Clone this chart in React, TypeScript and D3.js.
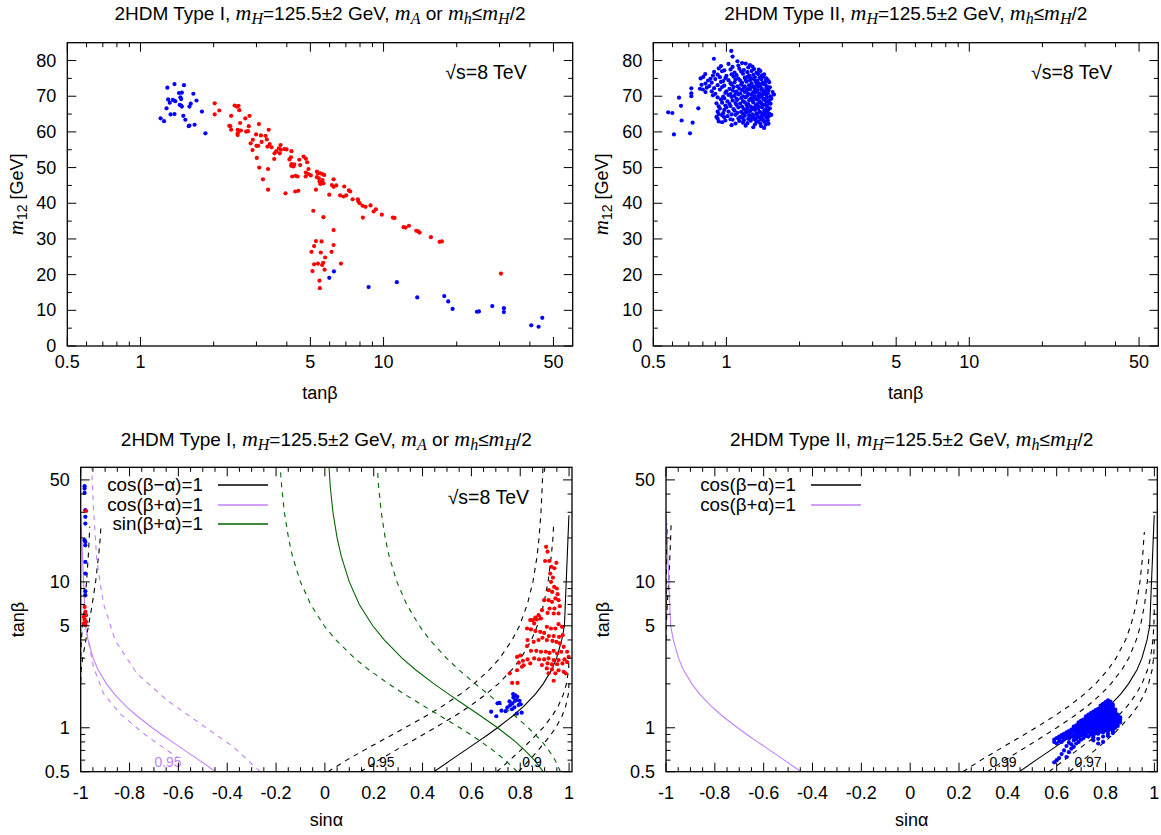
import React from "react";
import * as d3 from "d3";

type P = [number, number];

// ---------- Top-left: Type I  [tanβ, m12] ----------
const tlBlue: P[] = [
  [1.29,72.4],[1.38,73.4],[1.51,73.1],[1.21,63.8],[1.25,63.0],[1.28,66.6],[1.30,69.1],[1.32,68.2],[1.36,69.0],[1.39,68.6],
  [1.44,70.9],[1.46,69.7],[1.47,69.2],[1.48,71.0],[1.45,67.6],[1.47,67.4],[1.48,67.1],[1.33,64.9],[1.38,65.0],[1.50,64.5],
  [1.53,63.4],[1.58,61.6],[1.59,61.8],[1.61,67.9],[1.65,70.7],[1.67,62.0],[1.70,68.8],[1.79,65.7],[1.85,59.6],[1.59,67.1],
  [5.98,19.1],[6.25,20.9],[8.68,16.5],[11.34,17.9],[13.76,13.6],[17.77,14.0],[18.45,12.5],[19.23,10.4],[24.22,9.6],[24.68,9.7],
  [28.01,11.2],[31.27,10.6],[31.27,9.5],[40.53,5.8],[43.44,5.4],[44.98,7.9]
];
const tlRed: P[] = [
  [2.02,68.0],[2.11,66.0],[2.02,64.9],[2.44,67.4],[2.49,67.1],[2.53,67.3],[2.55,66.1],[2.36,64.5],[2.81,64.5],[2.70,63.8],
  [2.57,62.5],[2.32,61.7],[2.34,61.6],[2.36,60.6],[2.51,60.6],[2.54,60.3],[2.59,60.4],[2.72,60.1],[2.79,61.6],[2.77,60.2],
  [3.07,62.2],[3.37,60.6],[2.51,59.1],[2.51,59.6],[2.99,59.3],[3.13,59.0],[3.27,58.9],[3.31,57.9],[2.90,57.8],[2.84,56.8],
  [3.15,57.2],[3.40,56.6],[3.33,55.9],[3.46,55.7],[3.00,56.1],[3.05,56.1],[2.89,54.9],[3.77,56.3],[3.71,55.4],[3.78,55.0],
  [3.62,54.6],[3.56,54.0],[3.91,55.2],[3.99,55.1],[4.18,54.6],[3.74,54.0],[3.01,52.7],[3.55,52.4],[4.10,52.3],[4.16,52.9],
  [4.50,52.2],[4.69,53.1],[4.79,52.5],[4.85,51.5],[4.54,50.7],[4.18,51.0],[4.26,50.3],[4.17,50.5],[4.29,50.9],[4.91,49.6],
  [4.79,48.6],[4.91,48.2],[5.02,47.8],[4.78,47.5],[4.35,47.7],[4.21,47.5],[4.43,47.5],[3.08,50.0],[3.35,49.6],[3.19,46.7],
  [3.35,43.8],[3.95,42.8],[4.33,43.3],[4.46,43.5],[5.32,48.9],[5.37,48.4],[5.49,48.4],[5.61,48.2],[5.70,47.9],[5.32,47.3],
  [5.42,47.0],[5.61,46.5],[5.45,46.1],[5.56,45.6],[5.49,45.4],[5.66,45.6],[5.27,43.8],[6.23,46.7],[6.13,45.1],[6.23,44.6],
  [6.39,45.0],[6.89,44.7],[5.98,42.4],[6.63,42.2],[6.85,41.9],[7.02,42.2],[7.29,43.3],[7.46,41.1],[7.84,41.1],[7.87,40.6],
  [7.97,40.0],[7.20,43.6],[8.20,39.3],[8.43,39.0],[8.84,39.4],[9.30,38.3],[9.10,37.7],[8.22,36.0],[9.84,36.8],[10.92,36.0],
  [11.10,35.9],[12.09,33.3],[12.32,33.2],[12.72,33.7],[13.63,32.3],[13.89,32.1],[14.07,31.8],[15.66,30.5],[17.00,29.2],[17.38,29.3],
  [30.40,20.3],
  [5.14,37.9],[5.66,36.1],[6.23,32.5],[5.27,29.4],[5.56,29.3],[5.05,26.4],[5.18,28.0],[6.23,28.3],[6.11,26.4],[5.52,26.2],
  [5.75,24.8],[5.18,22.9],[5.37,23.1],[5.59,22.7],[5.65,23.3],[6.68,23.1],[5.10,21.0],[5.72,21.4],[5.45,18.3],[5.47,16.2]
];

// ---------- Top-right: Type II  [tanβ, m12] ----------
const trSparse: P[] = [
  [0.576,65.5],[0.599,65.3],[0.608,59.3],[0.638,69.6],[0.650,67.3],[0.654,63.2],[0.708,59.6],[0.717,72.2],[0.717,70.8],[0.717,70.0],
  [0.726,62.6],[0.766,66.6],[0.778,72.1],[0.783,75.0],[0.803,75.4],[0.818,76.2],[0.888,80.5],[1.047,82.7],[1.06,81.1]
];
const trCloud: P[] = [
  [1.11,79.8],[1.16,79.3],
  [1.02,79.05],[1.25,78.7],[1.20,79.15],
  [0.95,78.45],[1.06,78.2],[1.12,78.6],[1.23,78.05],[1.28,78.3],
  [0.93,77.8],[0.98,77.25],[1.04,77.5],[1.13,77.7],[1.18,77.35],[1.30,77.6],[1.36,77.45],
  [0.89,76.8],[0.96,77.0],[1.08,76.65],[1.15,76.9],[1.22,76.75],[1.27,77.08],[1.33,76.58],[1.38,77.05],
  [0.88,75.8],[0.92,76.05],[1.00,75.7],[1.05,76.15],[1.10,75.9],[1.17,76.3],[1.24,75.75],[1.29,76.0],[1.35,76.2],[1.40,75.85],[1.43,76.1],
  [0.86,74.9],[0.94,75.35],[0.99,75.1],[1.07,75.5],[1.12,74.95],[1.19,75.2],[1.22,75.4],[1.26,75.05],[1.31,75.3],[1.37,75.15],[1.42,75.48],[1.46,74.98],
  [0.84,74.4],[0.90,74.8],[0.97,74.25],[1.02,74.5],[1.09,74.7],[1.14,74.35],[1.20,74.6],[1.25,74.45],[1.30,74.78],[1.34,74.28],[1.39,74.75],[1.45,74.3],[1.48,74.55],
  [0.82,73.55],[0.87,73.8],[0.95,74.0],[1.04,73.65],[1.08,73.9],[1.16,73.75],[1.21,74.08],[1.27,73.58],[1.32,74.05],[1.36,73.6],[1.41,73.85],[1.44,73.5],[1.50,73.95],
  [0.79,73.2],[0.85,72.85],[0.92,73.1],[0.98,72.95],[1.05,73.28],[1.11,72.78],[1.15,73.25],[1.19,72.8],[1.24,73.05],[1.29,72.7],[1.33,73.15],[1.38,72.9],[1.43,73.3],[1.47,72.75],
  [0.83,72.4],[0.89,72.25],[0.96,72.58],[1.03,72.08],[1.07,72.55],[1.13,72.1],[1.18,72.35],[1.22,72.0],[1.26,72.45],[1.31,72.2],[1.35,72.6],[1.40,72.05],[1.46,72.3],[1.51,72.5],
  [0.80,71.88],[0.87,71.38],[0.94,71.85],[1.00,71.4],[1.06,71.65],[1.10,71.3],[1.16,71.75],[1.21,71.5],[1.25,71.9],[1.30,71.35],[1.34,71.6],[1.39,71.8],[1.44,71.45],[1.49,71.7],
  [0.82,71.15],[0.90,70.7],[0.99,70.95],[1.04,70.6],[1.09,71.05],[1.14,70.8],[1.19,71.2],[1.23,70.65],[1.28,70.9],[1.32,71.1],[1.37,70.75],[1.42,71.0],[1.48,70.85],[1.55,71.18],
  [0.88,70.25],[0.97,69.9],[1.02,70.35],[1.08,70.1],[1.12,70.5],[1.17,69.95],[1.22,70.2],[1.27,70.4],[1.31,70.05],[1.36,70.3],[1.40,70.15],[1.45,70.48],[1.52,69.98],[1.57,70.45],
  [0.92,69.65],[0.98,69.4],[1.05,69.8],[1.10,69.25],[1.15,69.5],[1.20,69.7],[1.26,69.35],[1.30,69.6],[1.35,69.45],[1.38,69.78],[1.43,69.28],[1.47,69.75],[1.53,69.3],
  [0.95,69.1],[1.01,68.55],[1.06,68.8],[1.11,69.0],[1.17,68.65],[1.24,68.9],[1.28,68.75],[1.33,69.08],[1.37,68.58],[1.42,69.05],[1.46,68.6],[1.50,68.85],
  [0.91,68.0],[0.96,68.2],[1.03,67.85],[1.09,68.1],[1.14,67.95],[1.19,68.28],[1.23,67.78],[1.29,68.25],[1.34,67.8],[1.39,68.05],[1.44,67.7],[1.49,68.15],[1.52,67.9],
  [0.93,67.15],[0.99,67.4],[1.04,67.25],[1.10,67.58],[1.16,67.08],[1.21,67.55],[1.26,67.1],[1.32,67.35],[1.36,67.0],[1.41,67.45],[1.47,67.2],
  [0.94,66.55],[1.00,66.88],[1.07,66.38],[1.12,66.85],[1.18,66.4],[1.22,66.65],[1.27,66.3],[1.30,66.75],[1.35,66.5],[1.40,66.9],[1.45,66.35],[1.51,66.6],
  [0.92,65.68],[0.98,66.15],[1.02,65.7],[1.08,65.95],[1.15,65.6],[1.20,66.05],[1.25,65.8],[1.31,66.2],[1.37,65.65],[1.43,65.9],[1.48,66.1],
  [0.93,65.0],[0.97,65.25],[1.05,64.9],[1.11,65.35],[1.17,65.1],[1.21,65.5],[1.28,64.95],[1.33,65.2],[1.38,65.4],[1.42,65.05],[1.46,65.3],[1.50,65.15],
  [0.91,64.2],[0.96,64.65],[1.01,64.4],[1.09,64.8],[1.14,64.25],[1.19,64.5],[1.24,64.7],[1.29,64.35],[1.34,64.6],[1.40,64.45],[1.44,64.78],[1.49,64.28],[1.53,64.75],
  [0.92,63.7],[0.98,64.1],[1.04,63.55],[1.12,63.8],[1.16,64.0],[1.23,63.65],[1.27,63.9],[1.32,63.75],[1.36,64.08],[1.41,63.58],[1.46,64.05],
  [0.93,62.95],[0.99,63.2],[1.06,63.4],[1.13,63.05],[1.18,63.3],[1.26,63.15],[1.31,63.48],[1.35,62.98],[1.39,63.45],[1.43,63.0],[1.48,63.25],
  [0.96,62.7],[1.09,62.35],[1.17,62.6],[1.22,62.45],[1.33,62.78],[1.38,62.28],[1.44,62.75],[1.49,62.3],
  [1.05,61.9],[1.20,61.75],[1.31,62.08],[1.39,61.58],[1.45,62.05],
  [1.29,61.3],[1.43,61.1]
];

// ---------- Bottom-left: Type I  [sinα, tanβ] ----------
const blBlue: P[] = [
  [0.681,1.29],[0.702,1.20],[0.707,1.47],[0.715,1.48],[0.723,1.31],[0.740,1.30],[0.748,1.38],[0.759,1.43],[0.756,1.52],[0.768,1.47],
  [0.772,1.61],[0.779,1.53],[0.788,1.63],[0.786,1.55],[0.797,1.53],[0.766,1.34],[0.776,1.38],[0.793,1.43],[0.802,1.45],[0.806,1.27],
  [0.786,1.25],[0.771,1.70],[0.780,1.67],
  [-0.984,45.3],[-0.984,43.6],[-0.984,40.7],[-0.981,31.0],[-0.981,27.9],[-0.981,25.1],[-0.984,19.3],[-0.981,18.8],[-0.981,17.8],
  [-0.981,13.7],[-0.981,11.4],[-0.981,8.64],[-0.981,8.11]
];
const blRed: P[] = [
  [0.906,17.4],[0.912,16.1],[0.902,13.9],[0.919,13.9],[0.948,13.5],[0.927,12.7],[0.940,12.4],[0.923,11.4],[0.934,10.7],[0.926,10.0],
  [0.939,9.24],[0.950,9.01],[0.917,8.77],[0.931,8.54],[0.953,8.24],[0.944,7.70],[0.916,7.49],[0.930,7.30],[0.957,7.49],[0.898,7.49],
  [0.962,6.82],[0.920,6.57],[0.940,6.57],[0.889,6.40],[0.912,6.13],[0.937,6.07],[0.957,6.07],[0.875,5.91],[0.862,5.70],[0.852,5.47],
  [0.868,5.53],[0.885,5.61],[0.841,5.47],[0.857,5.19],[0.909,4.92],[0.926,4.79],[0.944,4.79],[0.957,5.13],[0.971,4.92],[0.828,4.79],
  [0.844,4.72],[0.862,4.60],[0.882,4.55],[0.898,4.47],[0.917,4.25],[0.937,4.25],[0.959,4.20],[0.974,4.31],[0.830,3.99],[0.855,3.88],
  [0.875,3.99],[0.891,4.14],[0.909,3.99],[0.932,3.94],[0.948,3.88],[0.962,3.79],[0.978,3.59],[0.828,3.63],[0.844,3.37],[0.866,3.37],
  [0.885,3.32],[0.905,3.32],[0.920,3.26],[0.937,3.37],[0.951,3.23],[0.968,3.32],[0.992,3.32],[0.800,3.13],[0.787,3.06],[0.811,2.88],
  [0.830,2.94],[0.857,2.99],[0.877,2.94],[0.898,2.94],[0.916,2.99],[0.937,2.91],[0.957,2.91],[0.981,2.94],[0.998,3.06],[0.794,2.79],
  [0.814,2.68],[0.841,2.76],[0.889,2.69],[0.912,2.76],[0.930,2.72],[0.951,2.73],[0.973,2.76],[0.992,2.82],[0.787,2.48],[0.807,2.62],
  [0.909,2.55],[0.930,2.51],[0.957,2.48],[0.978,2.42],[0.757,2.36],[0.916,2.36],[0.944,2.36],[0.986,2.36],[0.937,2.10],[0.767,2.03],
  [0.789,2.03],
  [-0.978,30.6],[-0.984,6.74],[-0.981,6.23],[-0.978,5.91],[-0.987,5.76],[-0.984,5.53],[-0.978,5.32],[-0.987,5.19],[-0.981,5.05]
];

// ---------- Bottom-right: Type II  [sinα -> list of tanβ] ----------
const brColS: number[] = [0.59,0.60,0.61,0.62,0.63,0.64,0.65,0.66,0.67,0.68,0.69,0.70,0.71,0.72,0.73,0.74,0.75,0.76,0.77,0.78,0.79,0.80,0.81,0.82,0.83,0.84,0.85,0.86];
const brColT: number[][] = [
  [0.58,0.80,0.83],
  [0.60,0.78,0.85],
  [0.62,0.81,0.84,0.87],
  [0.66,0.80,0.86,0.89],
  [0.70,0.83,0.88,0.91],
  [0.63,0.75,0.86,0.90,0.93],
  [0.68,0.79,0.84,0.89,0.92,0.95],
  [0.72,0.77,0.87,0.91,0.94,0.97],
  [0.74,0.82,0.86,0.90,0.96,0.99,1.02],
  [0.78,0.84,0.88,0.93,0.97,1.00,1.04],
  [0.80,0.86,0.91,0.95,0.99,1.03,1.06,1.09],
  [0.83,0.89,0.93,0.97,1.01,1.05,1.08,1.12],
  [0.85,0.90,0.95,0.99,1.03,1.07,1.11,1.14],
  [0.88,0.92,0.96,1.00,1.05,1.09,1.13,1.17,1.20],
  [0.87,0.93,0.98,1.02,1.07,1.11,1.15,1.19,1.23],
  [0.90,0.95,1.00,1.04,1.08,1.13,1.17,1.21,1.26],
  [0.82,0.86,0.89,0.94,0.99,1.03,1.07,1.11,1.15,1.20,1.24,1.29],
  [0.92,0.97,1.01,1.05,1.10,1.14,1.18,1.22,1.27,1.32],
  [0.78,0.84,0.91,0.96,1.00,1.04,1.08,1.12,1.17,1.21,1.25,1.30,1.35],
  [0.94,0.98,1.02,1.06,1.11,1.15,1.19,1.24,1.28,1.33,1.38,1.42],
  [0.80,0.87,0.93,0.97,1.01,1.05,1.09,1.13,1.18,1.22,1.27,1.31,1.36,1.41,1.46],
  [0.96,1.00,1.04,1.08,1.12,1.16,1.21,1.25,1.30,1.34,1.39,1.44,1.50],
  [0.88,0.91,0.95,0.99,1.03,1.07,1.11,1.15,1.19,1.24,1.28,1.33,1.37,1.42,1.48,1.54],
  [0.98,1.02,1.06,1.10,1.14,1.18,1.22,1.27,1.31,1.36,1.40,1.46,1.51],
  [0.92,0.94,0.97,1.01,1.05,1.09,1.13,1.17,1.21,1.25,1.30,1.34,1.39,1.44],
  [1.00,1.04,1.08,1.12,1.16,1.20,1.24,1.29,1.33],
  [1.03,1.07,1.11,1.15,1.19,1.23],
  [1.09,1.14,1.18]
];

// ---------- Curves [sinα, tanβ] ----------
const cosBmA: P[] = [[0.447,0.5],[0.515,0.6],[0.574,0.7],[0.625,0.8],[0.669,0.9],[0.707,1],[0.768,1.2],[0.814,1.4],[0.862,1.7],[0.894,2],[0.929,2.5],[0.949,3],[0.970,4],[0.981,5],[0.9994,28.6]];
const cosBpA: P[] = [[-0.447,0.5],[-0.515,0.6],[-0.574,0.7],[-0.625,0.8],[-0.669,0.9],[-0.707,1],[-0.768,1.2],[-0.814,1.4],[-0.862,1.7],[-0.894,2],[-0.929,2.5],[-0.949,3],[-0.970,4],[-0.981,5],[-0.9994,28.6]];
const sinBpA: P[] = [[0.894,0.5],[0.858,0.6],[0.819,0.7],[0.781,0.8],[0.743,0.9],[0.707,1],[0.640,1.2],[0.581,1.4],[0.507,1.7],[0.447,2],[0.371,2.5],[0.316,3],[0.243,4],[0.196,5],[0.141,7],[0.100,10],[0.067,15],[0.050,20],[0.033,30],[0.022,45],[0.017,61]];

const bl95L: P[] = [[0.146,0.5],[0.221,0.6],[0.289,0.7],[0.350,0.8],[0.403,0.9],[0.451,1],[0.530,1.2],[0.592,1.4],[0.660,1.7],[0.710,2],[0.766,2.5],[0.803,3],[0.846,4],[0.870,5],[0.896,7],[0.914,10],[0.927,15],[0.934,20],[0.937,25]];
const bl90L: P[] = [[0.013,0.5],[0.089,0.6],[0.159,0.7],[0.222,0.8],[0.278,0.9],[0.328,1],[0.412,1.2],[0.479,1.4],[0.555,1.7],[0.610,2],[0.674,2.5],[0.716,3],[0.767,4],[0.797,5],[0.829,7],[0.852,10],[0.869,15],[0.877,20],[0.885,30],[0.890,45],[0.893,61]];
const bl95R: P[] = [[0.704,0.5],[0.757,0.6],[0.801,0.7],[0.837,0.8],[0.867,0.9],[0.893,1],[0.930,1.2],[0.955,1.4],[0.977,1.7],[0.989,2],[0.998,2.5],[1.0,3.04]];
const bl90R: P[] = [[0.793,0.5],[0.837,0.6],[0.873,0.7],[0.902,0.8],[0.926,0.9],[0.945,1],[0.971,1.2],[0.986,1.4],[0.997,1.7],[1.0,2.06]];
const bl95W: P[] = [[-1.0,3.04],[-0.997,4],[-0.993,5],[-0.985,7],[-0.976,10],[-0.969,15],[-0.965,20],[-0.963,24]];
const bl90W: P[] = [[-1.0,2.06],[-0.998,2.5],[-0.992,3],[-0.979,4],[-0.968,5],[-0.953,7],[-0.939,10],[-0.927,15],[-0.920,20],[-0.917,24]];

const blPurpleA: P[] = [[-0.265,0.5],[-0.375,0.741],[-0.511,1.07],[-0.648,1.55],[-0.770,2.36],[-0.859,3.98],[-0.907,7.11],[-0.934,14.0],[-0.948,32.6],[-0.955,61]];
const blPurpleB: P[] = [[-0.975,4.5],[-0.948,2.62],[-0.907,1.72],[-0.839,1.25],[-0.743,0.915],[-0.648,0.704],[-0.60,0.62]];

const blGreenA: P[] = [[0.788,0.5],[0.738,0.6],[0.689,0.7],[0.641,0.8],[0.596,0.9],[0.553,1],[0.475,1.2],[0.408,1.4],[0.326,1.7],[0.261,2],[0.180,2.5],[0.121,3],[0.045,4],[-0.003,5],[-0.058,7],[-0.100,10],[-0.133,15],[-0.149,20],[-0.166,30],[-0.177,45],[-0.183,61]];
const blGreenB: P[] = [[0.965,0.5],[0.943,0.6],[0.917,0.7],[0.890,0.8],[0.861,0.9],[0.833,1],[0.780,1.2],[0.731,1.4],[0.668,1.7],[0.616,2],[0.548,2.5],[0.498,3],[0.430,4],[0.387,5],[0.335,7],[0.295,10],[0.263,15],[0.247,20],[0.231,30],[0.220,45],[0.215,61]];

const br99L: P[] = [[0.317,0.5],[0.388,0.6],[0.452,0.7],[0.508,0.8],[0.557,0.9],[0.600,1],[0.670,1.2],[0.724,1.4],[0.782,1.7],[0.822,2],[0.867,2.5],[0.895,3],[0.926,4],[0.943,5],[0.960,7],[0.971,10],[0.978,15]];
const br97L: P[] = [[0.216,0.5],[0.290,0.6],[0.357,0.7],[0.416,0.8],[0.468,0.9],[0.514,1],[0.589,1.2],[0.648,1.4],[0.713,1.7],[0.759,2],[0.810,2.5],[0.843,3],[0.882,4],[0.903,5],[0.926,7],[0.941,10],[0.952,15],[0.957,20],[0.959,22]];
const br99R: P[] = [[0.569,0.5],[0.630,0.6],[0.683,0.7],[0.729,0.8],[0.767,0.9],[0.800,1],[0.851,1.2],[0.888,1.4],[0.925,1.7],[0.949,2],[0.972,2.5],[0.984,3],[0.994,4],[0.998,5],[1.0,7.02]];
const br97R: P[] = [[0.652,0.5],[0.708,0.6],[0.756,0.7],[0.796,0.8],[0.830,0.9],[0.858,1],[0.901,1.2],[0.931,1.4],[0.959,1.7],[0.976,2],[0.991,2.5],[0.997,3],[1.0,3.99]];
const br97W: P[] = [[-1.0,3.99],[-0.999,5],[-0.995,7],[-0.989,10],[-0.984,15],[-0.981,20],[-0.979,25]];
const br99W: P[] = [[-1.0,7.02],[-0.999,10],[-0.996,20],[-0.995,25]];

// ---------- Ticks ----------
const topXMajor = [0.5, 1, 5, 10, 50];
const topXMinor = [0.6, 0.7, 0.8, 0.9, 2, 3, 4, 6, 7, 8, 9, 20, 30, 40];
const topYMajor = [0, 10, 20, 30, 40, 50, 60, 70, 80];
const topYMinor = [5, 15, 25, 35, 45, 55, 65, 75];
const botXMajor = [-1, -0.8, -0.6, -0.4, -0.2, 0, 0.2, 0.4, 0.6, 0.8, 1];
const botXMinor = [-0.95,-0.9,-0.85,-0.75,-0.7,-0.65,-0.55,-0.5,-0.45,-0.35,-0.3,-0.25,-0.15,-0.1,-0.05,0.05,0.1,0.15,0.25,0.3,0.35,0.45,0.5,0.55,0.65,0.7,0.75,0.85,0.9,0.95];
const botYMajor = [0.5, 1, 5, 10, 50];
const botYMinor = [0.6, 0.7, 0.8, 0.9, 2, 3, 4, 6, 7, 8, 9, 20, 30, 40];

const FONT = "'Liberation Sans', Arial, Helvetica, sans-serif";
const SERIF = "'Liberation Serif', 'Times New Roman', serif";
const FS = 18;
const TFS = 19;
const MFS = 22;
const SFS = 16;
const BLUE = "#0000ff";
const RED = "#ff0000";
const PURPLE = "#c080ff";
const GREEN = "#006400";

type Box = { x0: number; x1: number; y0: number; y1: number };
const TL: Box = { x0: 67.3, x1: 572.7, y0: 42.7, y1: 346 };
const TR: Box = { x0: 653.3, x1: 1158.3, y0: 42.7, y1: 346 };
const BL: Box = { x0: 80.7, x1: 572, y0: 467.3, y1: 771.7 };
const BR: Box = { x0: 666, x1: 1157.3, y0: 467.3, y1: 771.7 };

function Frame({ b, xs, ys, xMaj, xMin, yMaj, yMin, xFmt, yFmt, xLabOff }: any) {
  const MJ = 9, MN = 4.5;
  const els: any[] = [];
  xMaj.forEach((v: number, i: number) => {
    const x = xs(v);
    els.push(<line key={"xM" + i} x1={x} x2={x} y1={b.y1} y2={b.y1 - MJ} stroke="#000" />);
    els.push(<line key={"xMt" + i} x1={x} x2={x} y1={b.y0} y2={b.y0 + MJ} stroke="#000" />);
    els.push(<text key={"xl" + i} x={x} y={b.y1 + xLabOff} textAnchor="middle" fontSize={FS}>{xFmt(v)}</text>);
  });
  xMin.forEach((v: number, i: number) => {
    const x = xs(v);
    els.push(<line key={"xm" + i} x1={x} x2={x} y1={b.y1} y2={b.y1 - MN} stroke="#000" />);
    els.push(<line key={"xmt" + i} x1={x} x2={x} y1={b.y0} y2={b.y0 + MN} stroke="#000" />);
  });
  yMaj.forEach((v: number, i: number) => {
    const y = ys(v);
    els.push(<line key={"yM" + i} x1={b.x0} x2={b.x0 + MJ} y1={y} y2={y} stroke="#000" />);
    els.push(<line key={"yMr" + i} x1={b.x1} x2={b.x1 - MJ} y1={y} y2={y} stroke="#000" />);
    els.push(<text key={"yl" + i} x={b.x0 - 11} y={y + 6} textAnchor="end" fontSize={FS}>{yFmt(v)}</text>);
  });
  yMin.forEach((v: number, i: number) => {
    const y = ys(v);
    els.push(<line key={"ym" + i} x1={b.x0} x2={b.x0 + MN} y1={y} y2={y} stroke="#000" />);
    els.push(<line key={"ymr" + i} x1={b.x1} x2={b.x1 - MN} y1={y} y2={y} stroke="#000" />);
  });
  els.push(<rect key="border" x={b.x0} y={b.y0} width={b.x1 - b.x0} height={b.y1 - b.y0} fill="none" stroke="#000" strokeWidth={1.3} />);
  return <g>{els}</g>;
}

function Dots({ pts, xs, ys, color }: any) {
  return (
    <g fill={color}>
      {pts.map((p: P, i: number) => (
        <circle key={i} cx={xs(p[0])} cy={ys(p[1])} r={2.1} />
      ))}
    </g>
  );
}

function Curve({ pts, xs, ys, color, dashed, clip }: any) {
  const line = d3.line<P>().x((d) => xs(d[0])).y((d) => ys(d[1]));
  return (
    <path d={line(pts) || ""} fill="none" stroke={color} strokeWidth={1.1}
      strokeDasharray={dashed ? "5,5" : undefined} clipPath={`url(#${clip})`} />
  );
}

function Title({ x, y, type }: { x: number; y: number; type: string }) {
  const it = { fontFamily: SERIF, fontStyle: "italic" } as any;
  const parts: any[] = [];
  const msub = (k: string, s: string) => {
    parts.push(<tspan key={"m" + k} {...it} fontSize={MFS}>m</tspan>);
    parts.push(<tspan key={"s" + k} {...it} fontSize={SFS} dy={4}>{s}</tspan>);
  };
  parts.push(<tspan key="a">{`2HDM Type ${type}, `}</tspan>);
  msub("1", "H");
  parts.push(<tspan key="b" dy={-4}>=125.5±2 GeV, </tspan>);
  if (type === "I") {
    msub("2", "A");
    parts.push(<tspan key="c" dy={-4}> or </tspan>);
  }
  msub("3", "h");
  parts.push(<tspan key="d" dy={-4}>≤</tspan>);
  msub("4", "H");
  parts.push(<tspan key="e" dy={-4}>/2</tspan>);
  return <text x={x} y={y} textAnchor="middle" fontSize={TFS}>{parts}</text>;
}

export default function App() {
  const txs = (b: Box) => d3.scaleLog().domain([0.5, 60]).range([b.x0, b.x1]);
  const tys = (b: Box) => d3.scaleLinear().domain([0, 85]).range([b.y1, b.y0]);
  const bxs = (b: Box) => d3.scaleLinear().domain([-1, 1.012]).range([b.x0, b.x1]);
  const bys = (b: Box) => d3.scaleLog().domain([0.5, 61]).range([b.y1, b.y0]);

  const xTL = txs(TL), yTL = tys(TL), xTR = txs(TR), yTR = tys(TR);
  const xBL = bxs(BL), yBL = bys(BL), xBR = bxs(BR), yBR = bys(BR);

  const trBlue: P[] = trSparse.concat(trCloud);
  const brBlue: P[] = ([] as P[]).concat(
    ...brColS.map((s, i) => brColT[i].map((t) => [s, t] as P))
  );

  const numFmt = (v: number) => String(v);
  const botXFmt = (v: number) => (Math.abs(v) < 1e-9 ? "0" : String(v));

  const cx = (b: Box) => (b.x0 + b.x1) / 2;
  const cy = (b: Box) => (b.y0 + b.y1) / 2;
  const it = { fontFamily: SERIF, fontStyle: "italic" } as any;
  const LFS = 18.8;

  const legendRow = (x: number, y: number, label: string, color: string, k: string) => (
    <g key={k}>
      <text x={x} y={y + 6} textAnchor="end" fontSize={LFS}>{label}</text>
      <line x1={x + 15} x2={x + 65} y1={y} y2={y} stroke={color} strokeWidth={1.3} />
    </g>
  );

  const ylab12 = (x: number, b: Box) => (
    <text transform={`translate(${x},${cy(b)}) rotate(-90)`} textAnchor="middle" fontSize={FS}>
      <tspan {...it} fontSize={MFS - 1}>m</tspan><tspan fontSize={SFS - 2} dy={4}>12</tspan><tspan dy={-4}> [GeV]</tspan>
    </text>
  );

  return (
    <div style={{ position: "absolute", left: 0, top: 0 }}>
      <svg width={1161} height={835} fontFamily={FONT} style={{ display: "block", background: "#fff" }}>
        <defs>
          {[["cTL", TL], ["cTR", TR], ["cBL", BL], ["cBR", BR]].map(([id, b]: any) => (
            <clipPath id={id} key={id}>
              <rect x={b.x0} y={b.y0} width={b.x1 - b.x0} height={b.y1 - b.y0} />
            </clipPath>
          ))}
        </defs>
        <rect x={0} y={0} width={1161} height={835} fill="#fff" />

        <Title x={cx(TL)} y={20} type="I" />
        <Title x={cx(TR)} y={20} type="II" />
        <Title x={cx(BL)} y={446} type="I" />
        <Title x={cx(BR)} y={446} type="II" />

        {/* Top-left */}
        <g clipPath="url(#cTL)">
          <Dots pts={tlBlue} xs={xTL} ys={yTL} color={BLUE} />
          <Dots pts={tlRed} xs={xTL} ys={yTL} color={RED} />
        </g>
        <Frame b={TL} xs={xTL} ys={yTL} xMaj={topXMajor} xMin={topXMinor} yMaj={topYMajor} yMin={topYMinor} xFmt={numFmt} yFmt={numFmt} xLabOff={22} />
        <text x={TL.x1 - 46} y={79} textAnchor="end" fontSize={19.5}>√s=8 TeV</text>
        <text x={cx(TL)} y={399} textAnchor="middle" fontSize={FS}>tanβ</text>
        {ylab12(23, TL)}

        {/* Top-right */}
        <g clipPath="url(#cTR)">
          <Dots pts={trBlue} xs={xTR} ys={yTR} color={BLUE} />
        </g>
        <Frame b={TR} xs={xTR} ys={yTR} xMaj={topXMajor} xMin={topXMinor} yMaj={topYMajor} yMin={topYMinor} xFmt={numFmt} yFmt={numFmt} xLabOff={22} />
        <text x={TR.x1 - 46} y={79} textAnchor="end" fontSize={19.5}>√s=8 TeV</text>
        <text x={cx(TR)} y={399} textAnchor="middle" fontSize={FS}>tanβ</text>
        {ylab12(608, TR)}

        {/* Bottom-left */}
        <Curve pts={bl95L} xs={xBL} ys={yBL} color="#000" dashed clip="cBL" />
        <Curve pts={bl90L} xs={xBL} ys={yBL} color="#000" dashed clip="cBL" />
        <Curve pts={bl95R} xs={xBL} ys={yBL} color="#000" dashed clip="cBL" />
        <Curve pts={bl90R} xs={xBL} ys={yBL} color="#000" dashed clip="cBL" />
        <Curve pts={bl95W} xs={xBL} ys={yBL} color="#000" dashed clip="cBL" />
        <Curve pts={bl90W} xs={xBL} ys={yBL} color="#000" dashed clip="cBL" />
        <Curve pts={blPurpleA} xs={xBL} ys={yBL} color={PURPLE} dashed clip="cBL" />
        <Curve pts={blPurpleB} xs={xBL} ys={yBL} color={PURPLE} dashed clip="cBL" />
        <Curve pts={blGreenA} xs={xBL} ys={yBL} color={GREEN} dashed clip="cBL" />
        <Curve pts={blGreenB} xs={xBL} ys={yBL} color={GREEN} dashed clip="cBL" />
        <Curve pts={cosBmA} xs={xBL} ys={yBL} color="#000" clip="cBL" />
        <Curve pts={cosBpA} xs={xBL} ys={yBL} color={PURPLE} clip="cBL" />
        <Curve pts={sinBpA} xs={xBL} ys={yBL} color={GREEN} clip="cBL" />
        <g clipPath="url(#cBL)">
          <Dots pts={blBlue} xs={xBL} ys={yBL} color={BLUE} />
          <Dots pts={blRed} xs={xBL} ys={yBL} color={RED} />
        </g>
        <text x={168} y={767} textAnchor="middle" fontSize={14} fill={PURPLE}>0.95</text>
        <text x={381} y={767} textAnchor="middle" fontSize={14}>0.95</text>
        <text x={532} y={767} textAnchor="middle" fontSize={14}>0.9</text>
        <Frame b={BL} xs={xBL} ys={yBL} xMaj={botXMajor} xMin={botXMinor} yMaj={botYMajor} yMin={botYMinor} xFmt={botXFmt} yFmt={numFmt} xLabOff={27} />
        <text x={BL.x1 - 43} y={504} textAnchor="end" fontSize={19.5}>√s=8 TeV</text>
        <text x={cx(BL)} y={826} textAnchor="middle" fontSize={FS}>sinα</text>
        <text transform={`translate(24,${cy(BL)}) rotate(-90)`} textAnchor="middle" fontSize={FS}>tanβ</text>
        {legendRow(203, 485, "cos(β−α)=1", "#000", "l1")}
        {legendRow(203, 505, "cos(β+α)=1", PURPLE, "l2")}
        {legendRow(203, 524, "sin(β+α)=1", GREEN, "l3")}

        {/* Bottom-right */}
        <Curve pts={br99L} xs={xBR} ys={yBR} color="#000" dashed clip="cBR" />
        <Curve pts={br97L} xs={xBR} ys={yBR} color="#000" dashed clip="cBR" />
        <Curve pts={br99R} xs={xBR} ys={yBR} color="#000" dashed clip="cBR" />
        <Curve pts={br97R} xs={xBR} ys={yBR} color="#000" dashed clip="cBR" />
        <Curve pts={br97W} xs={xBR} ys={yBR} color="#000" dashed clip="cBR" />
        <Curve pts={br99W} xs={xBR} ys={yBR} color="#000" dashed clip="cBR" />
        <Curve pts={cosBmA} xs={xBR} ys={yBR} color="#000" clip="cBR" />
        <Curve pts={cosBpA} xs={xBR} ys={yBR} color={PURPLE} clip="cBR" />
        <g clipPath="url(#cBR)">
          <Dots pts={brBlue} xs={xBR} ys={yBR} color={BLUE} />
        </g>
        <text x={1003} y={767} textAnchor="middle" fontSize={14}>0.99</text>
        <text x={1088} y={767} textAnchor="middle" fontSize={14}>0.97</text>
        <Frame b={BR} xs={xBR} ys={yBR} xMaj={botXMajor} xMin={botXMinor} yMaj={botYMajor} yMin={botYMinor} xFmt={botXFmt} yFmt={numFmt} xLabOff={27} />
        <text x={cx(BR)} y={826} textAnchor="middle" fontSize={FS}>sinα</text>
        <text transform={`translate(609,${cy(BR)}) rotate(-90)`} textAnchor="middle" fontSize={FS}>tanβ</text>
        {legendRow(796, 485, "cos(β−α)=1", "#000", "r1")}
        {legendRow(796, 505, "cos(β+α)=1", PURPLE, "r2")}
      </svg>
    </div>
  );
}
